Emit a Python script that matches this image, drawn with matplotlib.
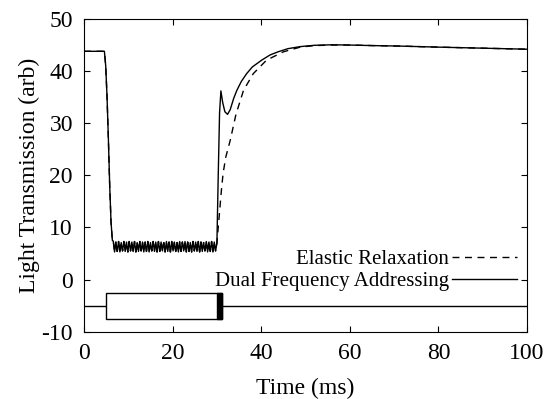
import matplotlib
matplotlib.use('Agg')
import matplotlib.pyplot as plt
from matplotlib.patches import Rectangle

plt.rcParams['font.family'] = ['Liberation Serif', 'DejaVu Serif']
plt.rcParams['axes.unicode_minus'] = False

# shared part: hold, switch-on drop
t_drop = [0, 4.6, 4.9, 5.2, 5.5, 5.8, 6.1, 6.4]
y_drop = [43.8, 43.8, 41.0, 35.0, 27.0, 18.0, 11.0, 7.5]

# ripple while the field is applied
t_band = [6.6, 6.9, 7.2, 7.5, 7.8, 8.1, 8.4, 8.7, 9.0, 9.3, 9.6, 9.9,
          10.2, 10.5, 10.8, 11.1, 11.4, 11.7, 12.0, 12.3, 12.6, 12.9,
          13.2, 13.5, 13.8, 14.1, 14.4, 14.7, 15.0, 15.3, 15.6, 15.9,
          16.2, 16.5, 16.8, 17.1, 17.4, 17.7, 18.0, 18.3, 18.6, 18.9,
          19.2, 19.5, 19.8, 20.1, 20.4, 20.7, 21.0, 21.3, 21.6, 21.9,
          22.2, 22.5, 22.8, 23.1, 23.4, 23.7, 24.0, 24.3, 24.6, 24.9,
          25.2, 25.5, 25.8, 26.1, 26.4, 26.7, 27.0, 27.3, 27.6, 27.9,
          28.2, 28.5, 28.8, 29.1, 29.4, 29.7]
y_band = [7.4, 5.3, 7.2, 5.4, 7.3, 5.3, 7.1, 5.5, 7.3, 5.4, 7.2, 5.3,
          7.3, 5.5, 7.2, 5.4, 7.3, 5.3, 7.1, 5.4, 7.3, 5.5, 7.2, 5.3,
          7.2, 5.4, 7.3, 5.3, 7.1, 5.5, 7.3, 5.4, 7.2, 5.3, 7.3, 5.4,
          7.2, 5.5, 7.1, 5.3, 7.3, 5.4, 7.2, 5.3, 7.3, 5.5, 7.2, 5.4,
          7.1, 5.3, 7.3, 5.4, 7.2, 5.5, 7.3, 5.3, 7.2, 5.4, 7.1, 5.3,
          7.3, 5.5, 7.2, 5.4, 7.3, 5.3, 7.2, 5.4, 7.1, 5.5, 7.3, 5.3,
          7.2, 5.4, 7.3, 5.3, 7.2, 5.5]

# recovery, dual frequency addressing
t_dual = [30.0, 30.3, 30.6, 30.9, 31.3, 31.8, 32.4, 33.0, 33.8, 34.5,
          35.5, 36.7, 38.0, 40.1, 42.0, 43.8, 46.0, 48.8, 52, 56, 60,
          65, 71.3, 80, 90, 100]
y_dual = [7.0, 20.0, 32.0, 36.2, 34.0, 32.2, 31.7, 32.6, 34.8, 36.3,
          38.0, 39.5, 40.8, 42.1, 43.1, 43.7, 44.3, 44.7, 44.95, 45.05,
          45.0, 44.9, 44.8, 44.6, 44.4, 44.2]

# recovery, elastic relaxation
t_elastic = [30.0, 30.5, 31.0, 31.4, 32.0, 33.0, 34.3, 36.0, 38.2, 41.2,
             45.0, 48.8, 52, 56, 60, 65, 71.3, 80, 90, 100]
y_elastic = [7.0, 12.0, 17.0, 20.4, 23.5, 26.7, 31.7, 36.3, 39.5, 42.1,
             43.7, 44.6, 44.9, 45.0, 45.0, 44.9, 44.8, 44.6, 44.4, 44.2]

# drive waveform sketch
drive_base = -5
drive_top, drive_bottom = -2.5, -7.5
drive_on, drive_off = 5.0, 31.1
pulse_start = 29.95

fig = plt.figure(figsize=(5.52, 3.99), dpi=100)
ax = fig.add_axes([0.1522, 0.1687, 0.8025, 0.7837])

ax.plot(t_drop + t_band + t_elastic, y_drop + y_band + y_elastic,
        color='black', lw=1.0, ls=(0, (5, 4)), label='Elastic Relaxation')
ax.plot(t_drop + t_band + t_dual, y_drop + y_band + y_dual,
        color='black', lw=1.0, label='Dual Frequency Addressing')

ax.axhline(drive_base, color='black', lw=1.0)
ax.add_patch(Rectangle((drive_on, drive_bottom), drive_off - drive_on,
                       drive_top - drive_bottom, facecolor='white',
                       edgecolor='black', lw=1.0, zorder=3))
ax.add_patch(Rectangle((pulse_start, drive_bottom), drive_off - pulse_start,
                       drive_top - drive_bottom, facecolor='black',
                       edgecolor='black', lw=1.0, zorder=3))

ax.set_xlim(0, 100)
ax.set_ylim(-10, 50)
ax.set_xticks([0, 20, 40, 60, 80, 100])
ax.set_yticks([-10, 0, 10, 20, 30, 40, 50])
ax.tick_params(direction='in', top=True, right=True, length=4,
               labelsize=17, pad=8)
ax.set_xlabel('Time (ms)', fontsize=17, labelpad=10)
ax.set_ylabel('Light Transmission (arb)', fontsize=17, labelpad=1)

ax.legend(loc='lower right', bbox_to_anchor=(0.977, 0.13), frameon=False,
          markerfirst=False, fontsize=15, handlelength=3.1,
          handletextpad=0.15, labelspacing=0.12, borderpad=0,
          borderaxespad=0)

fig.savefig('out.png', dpi=100)
